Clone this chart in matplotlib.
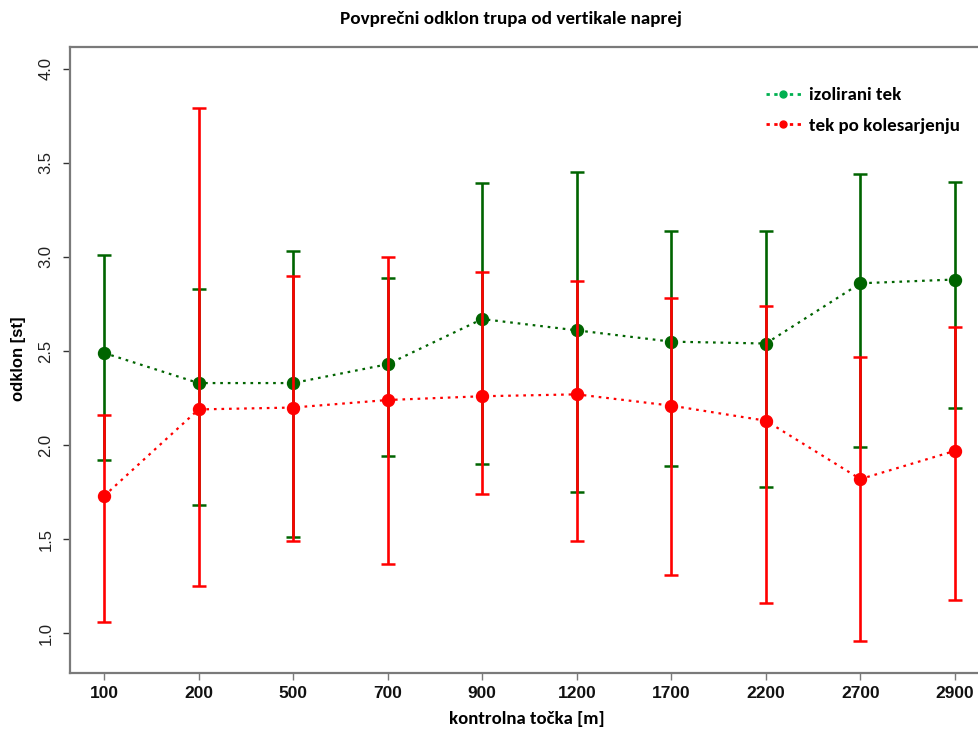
import matplotlib
matplotlib.use("Agg")
import matplotlib.pyplot as plt
from matplotlib.lines import Line2D
import numpy as np

# control points along the track (categorical x axis)
points = ["100", "200", "500", "700", "900", "1200", "1700", "2200", "2700", "2900"]

# isolated running: mean forward trunk lean and its error-bar limits
iso_mean = [2.49, 2.33, 2.33, 2.43, 2.67, 2.61, 2.55, 2.54, 2.86, 2.88]
iso_low = [1.92, 1.68, 1.51, 1.94, 1.90, 1.75, 1.89, 1.78, 1.99, 2.20]
iso_high = [3.01, 2.83, 3.03, 2.89, 3.39, 3.45, 3.14, 3.14, 3.44, 3.40]

# running after the bike leg: mean forward trunk lean and its error-bar limits
bike_mean = [1.73, 2.19, 2.20, 2.24, 2.26, 2.27, 2.21, 2.13, 1.82, 1.97]
bike_low = [1.06, 1.25, 1.49, 1.37, 1.74, 1.49, 1.31, 1.16, 0.96, 1.18]
bike_high = [2.16, 3.79, 2.90, 3.00, 2.92, 2.87, 2.78, 2.74, 2.47, 2.63]

y_ticks = [1.0, 1.5, 2.0, 2.5, 3.0, 3.5, 4.0]

title = "Povprečni odklon trupa od vertikale naprej"
x_label = "kontrolna točka [m]"
y_label = "odklon [st]"
legend_labels = ["izolirani tek", "tek po kolesarjenju"]

GREEN = "#006400"
RED = "#ff0000"
LEG_GREEN = "#00b050"
FRAME = "#7a7a7a"

HUMANIST = ["Carlito", "Lato", "DejaVu Sans"]
ARIAL = ["Liberation Sans", "DejaVu Sans"]

W, H = 979, 733
fig = plt.figure(figsize=(W / 100, H / 100), dpi=100)
# plot region in pixels: left 70, right 989 (runs just past the image edge), top 47, bottom 673
L, R, T, B = 70, 989, 47, 673
ax = fig.add_axes([L / W, 1 - B / H, (R - L) / W, (B - T) / H])

x = np.arange(1, len(points) + 1)


def draw_series(mean, low, high, color, z):
    mean = np.asarray(mean)
    err = np.vstack([mean - np.asarray(low), np.asarray(high) - mean])
    ax.errorbar(x, mean, yerr=err, fmt="none", ecolor=color, elinewidth=1.9,
                capsize=5.0, capthick=1.8, zorder=z)
    ax.plot(x, mean, linestyle=(0, (1.2, 2.2)), linewidth=1.6, color=color, zorder=z + 1)
    ax.plot(x, mean, linestyle="none", marker="o", markersize=8.6,
            color=color, zorder=z + 2)


draw_series(iso_mean, iso_low, iso_high, GREEN, 2)
draw_series(bike_mean, bike_low, bike_high, RED, 5)

ax.set_xlim(0.64, 10.36)
ax.set_ylim(0.79, 4.115)

ax.set_xticks(x)
ax.set_xticklabels(points, fontfamily=ARIAL, fontweight="bold", fontsize=12.5,
                   color="#111111")
ax.set_yticks(y_ticks)
ax.set_yticklabels([f"{v:.1f}" for v in y_ticks], fontfamily=ARIAL, fontsize=12,
                   rotation=90, va="center", color="#222222")

ax.tick_params(axis="x", length=5, width=1.0, color=FRAME, pad=4.5)
ax.tick_params(axis="y", length=5, width=1.0, color="#333333", pad=7)

for s in ax.spines.values():
    s.set_color(FRAME)
    s.set_linewidth(1.6)

ax.set_xlabel(x_label, fontfamily=HUMANIST, fontweight="bold", fontsize=13.5)
ax.xaxis.set_label_coords((527 - L) / (R - L), -(711 - B) / (B - T))
ax.xaxis.label.set_va("top")
ax.set_ylabel(y_label, fontfamily=ARIAL, fontweight="bold", fontsize=12)
ax.yaxis.set_label_coords(-(L - 26) / (R - L), (B - 359) / (B - T))

fig.text(511 / W, 1 - 19 / H, title, ha="center", va="center",
         fontfamily=HUMANIST, fontweight="bold", fontsize=13.8)

handles = [
    Line2D([], [], color=LEG_GREEN, linestyle=(0, (1.2, 1.6)), linewidth=2.0,
           marker="o", markersize=5),
    Line2D([], [], color=RED, linestyle=(0, (1.2, 1.6)), linewidth=2.0,
           marker="o", markersize=5),
]
leg = fig.legend(handles, legend_labels, loc="upper left",
                 bbox_to_anchor=(766 / W, 1 - 87 / H), frameon=False,
                 prop={"family": HUMANIST, "weight": "bold", "size": 13.6},
                 handlelength=1.85, handletextpad=0.45, labelspacing=0.75,
                 borderpad=0, borderaxespad=0)

fig.savefig("out.png", dpi=100, facecolor="white")
